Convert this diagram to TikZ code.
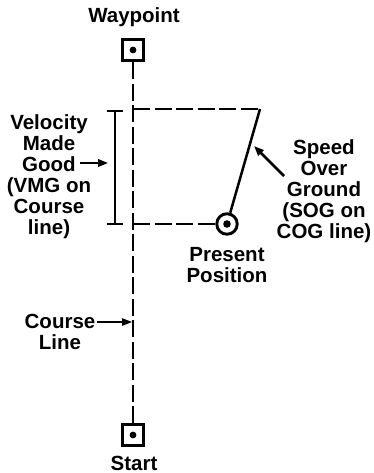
\documentclass[tikz,border=0pt]{standalone}
\usepackage{fontspec}
\setmainfont{Liberation Sans}
\usetikzlibrary{arrows.meta}
\tikzset{
	fixbox/.style={draw, line width=2.9pt, minimum size=21.5pt, inner sep=0pt},
	fixring/.style={draw, circle, line width=2.9pt, minimum size=20.5pt, inner sep=0pt},
	label text/.style={font=\bfseries\fontsize{20.5}{21}\selectfont, align=center, inner sep=0pt},
	course/.style={dash pattern=on 17pt off 4.5pt, line width=2.7pt},
	pointer/.style={-{Triangle[length=10pt,width=7.5pt]}, line width=2pt}
}
\begin{document}
\begin{tikzpicture}[x=1pt,y=-1pt]
	\useasboundingbox (0,0) rectangle (374,473);
	\node[label text, anchor=base] (wplabel) at (134,22.5) {Waypoint};
	\node[fixbox] (wp) at (133,50) {};
	\fill (wp.center) circle (3.4pt);
	\node[fixbox] (st) at (133,435) {};
	\fill (st.center) circle (3.4pt);
	\node[label text, anchor=base] (stlabel) at (134,470) {Start};
	\node[fixring] (pp) at (227,224) {};
	\fill (pp.center) circle (3.8pt);
	
	\coordinate (vtop) at (133,109);
	\coordinate (ctop) at (260,109);
	\coordinate (vbot) at (133,224);
	\draw[course] (wp) -- (st);
	\draw[course] (vtop) -- (ctop);
	\draw[course] (vbot) -- (pp);
	\draw[line width=2.5pt] (ctop) -- (pp);
	
	\coordinate (vmgtop) at (115,110);
	\coordinate (vmgbot) at (115,225);
	\draw[{Bar[width=16pt]}-{Bar[width=16pt]}, line width=2.3pt] (vmgtop) -- (vmgbot);
	
	\node[label text, anchor=north] (vmg) at (49,114) {Velocity\\Made\\Good\\(VMG on\\Course\\line)};
	\node[label text, anchor=north] (sog) at (324,139) {Speed\\Over\\Ground\\(SOG on\\COG line)};
	\node[label text, anchor=north] (pplabel) at (227,247) {Present\\Position};
	\node[label text, anchor=north] (cllabel) at (60,314) {Course\\Line};
	
	\coordinate (goodend) at (80,163);
	\coordinate (vmgmid) at (108,163);
	\coordinate (sogtail) at (284,176);
	\coordinate (sogtip) at (254,146);
	\coordinate (cltail) at (97,322);
	\coordinate (cltip) at (132,322);
	\draw[pointer] (goodend) -- (vmgmid);
	\draw[pointer, line width=2.6pt] (sogtail) -- (sogtip);
	\draw[pointer, line width=1.3pt] (cltail) -- (cltip);
\end{tikzpicture}
\end{document}
